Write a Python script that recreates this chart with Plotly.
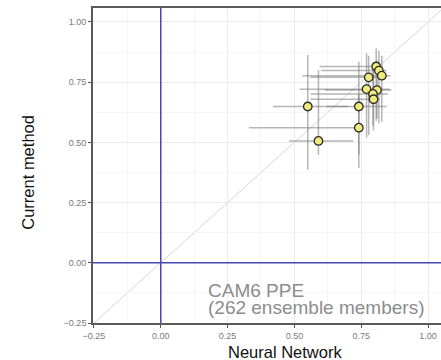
import plotly.graph_objects as go

# Data
neural_network = [0.550, 0.741, 0.741, 0.590, 0.778, 0.806, 0.816, 0.827, 0.770, 0.809, 0.794, 0.796]
current_method = [0.649, 0.649, 0.561, 0.506, 0.770, 0.815, 0.798, 0.777, 0.721, 0.717, 0.701, 0.679]
nn_low = [0.42, 0.62, 0.33, 0.48, 0.56, 0.594, 0.60, 0.53, 0.52, 0.613, 0.56, 0.56]
nn_high = [0.70, 0.845, 0.75, 0.72, 0.84, 0.83, 0.845, 0.86, 0.857, 0.863, 0.85, 0.82]
cm_low = [0.386, 0.45, 0.394, 0.448, 0.53, 0.59, 0.58, 0.586, 0.52, 0.60, 0.57, 0.55]
cm_high = [0.863, 0.835, 0.70, 0.80, 0.86, 0.89, 0.88, 0.86, 0.87, 0.84, 0.83, 0.82]
tick_values = [-0.25, 0.0, 0.25, 0.5, 0.75, 1.0]
annotation_lines = ["CAM6 PPE", "(262 ensemble members)"]

FONT = "Liberation Sans, Arial, Helvetica, sans-serif"

ex_plus = [h - v for h, v in zip(nn_high, neural_network)]
ex_minus = [v - l for v, l in zip(neural_network, nn_low)]
ey_plus = [h - v for h, v in zip(cm_high, current_method)]
ey_minus = [v - l for v, l in zip(current_method, cm_low)]

fig = go.Figure()

# identity line
fig.add_shape(type="line", xref="x", yref="y", x0=-0.3, y0=-0.3, x1=1.2, y1=1.2,
              line=dict(color="#d6d6d6", width=1), layer="below")

# blue reference lines at 0
fig.add_shape(type="line", xref="x", yref="paper", x0=0, x1=0, y0=0, y1=1,
              line=dict(color="#4646b0", width=1.5), layer="above")
fig.add_shape(type="line", xref="paper", yref="y", x0=0, x1=1, y0=0, y1=0,
              line=dict(color="#4646b0", width=1.5), layer="above")

fig.add_trace(go.Scatter(
    x=neural_network, y=current_method, mode="markers",
    marker=dict(size=8.5, color="#efeb7c", line=dict(color="#2a2a2a", width=1.3)),
    error_x=dict(type="data", symmetric=False, array=ex_plus, arrayminus=ex_minus,
                 color="rgba(120,120,120,0.55)", thickness=1.5, width=0),
    error_y=dict(type="data", symmetric=False, array=ey_plus, arrayminus=ey_minus,
                 color="rgba(120,120,120,0.55)", thickness=1.5, width=0),
    showlegend=False,
))

axis_common = dict(
    tickvals=tick_values, tickformat=".2f", ticks="outside", ticklen=3,
    tickcolor="#555", tickwidth=1,
    tickfont=dict(family=FONT, size=9, color="#7a7a7a"),
    showgrid=True, gridcolor="#ececec", gridwidth=1,
    minor=dict(dtick=0.125, tick0=-0.25, showgrid=True, gridcolor="#f6f6f6", gridwidth=1, ticks=""),
    zeroline=False, showline=True, linecolor="#5a5a5a", linewidth=1.6,
    automargin=False,
)

fig.update_xaxes(range=[-0.2535, 1.0485], mirror=True, **axis_common)
fig.update_yaxes(range=[-0.25, 1.058], mirror=False, **axis_common)

fig.add_annotation(text="Neural Network", xref="paper", yref="paper", x=0.552, y=-0.091,
                   xanchor="center", yanchor="middle", showarrow=False,
                   font=dict(family=FONT, size=16.5, color="#111"))
fig.add_annotation(text="Current method", xref="paper", yref="paper", x=-0.187, y=0.48,
                   xanchor="center", yanchor="middle", textangle=-90, showarrow=False,
                   font=dict(family=FONT, size=16.5, color="#111"))

fig.add_annotation(text=annotation_lines[0], xref="x", yref="y", x=0.169, y=-0.114,
                   xanchor="left", yanchor="middle", showarrow=False,
                   font=dict(family=FONT, size=19, color="#8c8c8c"))
fig.add_annotation(text=annotation_lines[1], xref="x", yref="y", x=0.169, y=-0.184,
                   xanchor="left", yanchor="middle", showarrow=False,
                   font=dict(family=FONT, size=19, color="#8c8c8c"))

fig.update_layout(
    width=441, height=360,
    margin=dict(l=93, r=0, t=8, b=37, pad=0, autoexpand=False),
    paper_bgcolor="white", plot_bgcolor="white",
    showlegend=False,
)

fig.write_html(
    "out.html",
    config={"displayModeBar": False},
    post_script="document.body.style.margin='0';document.body.style.overflow='hidden';",
)
